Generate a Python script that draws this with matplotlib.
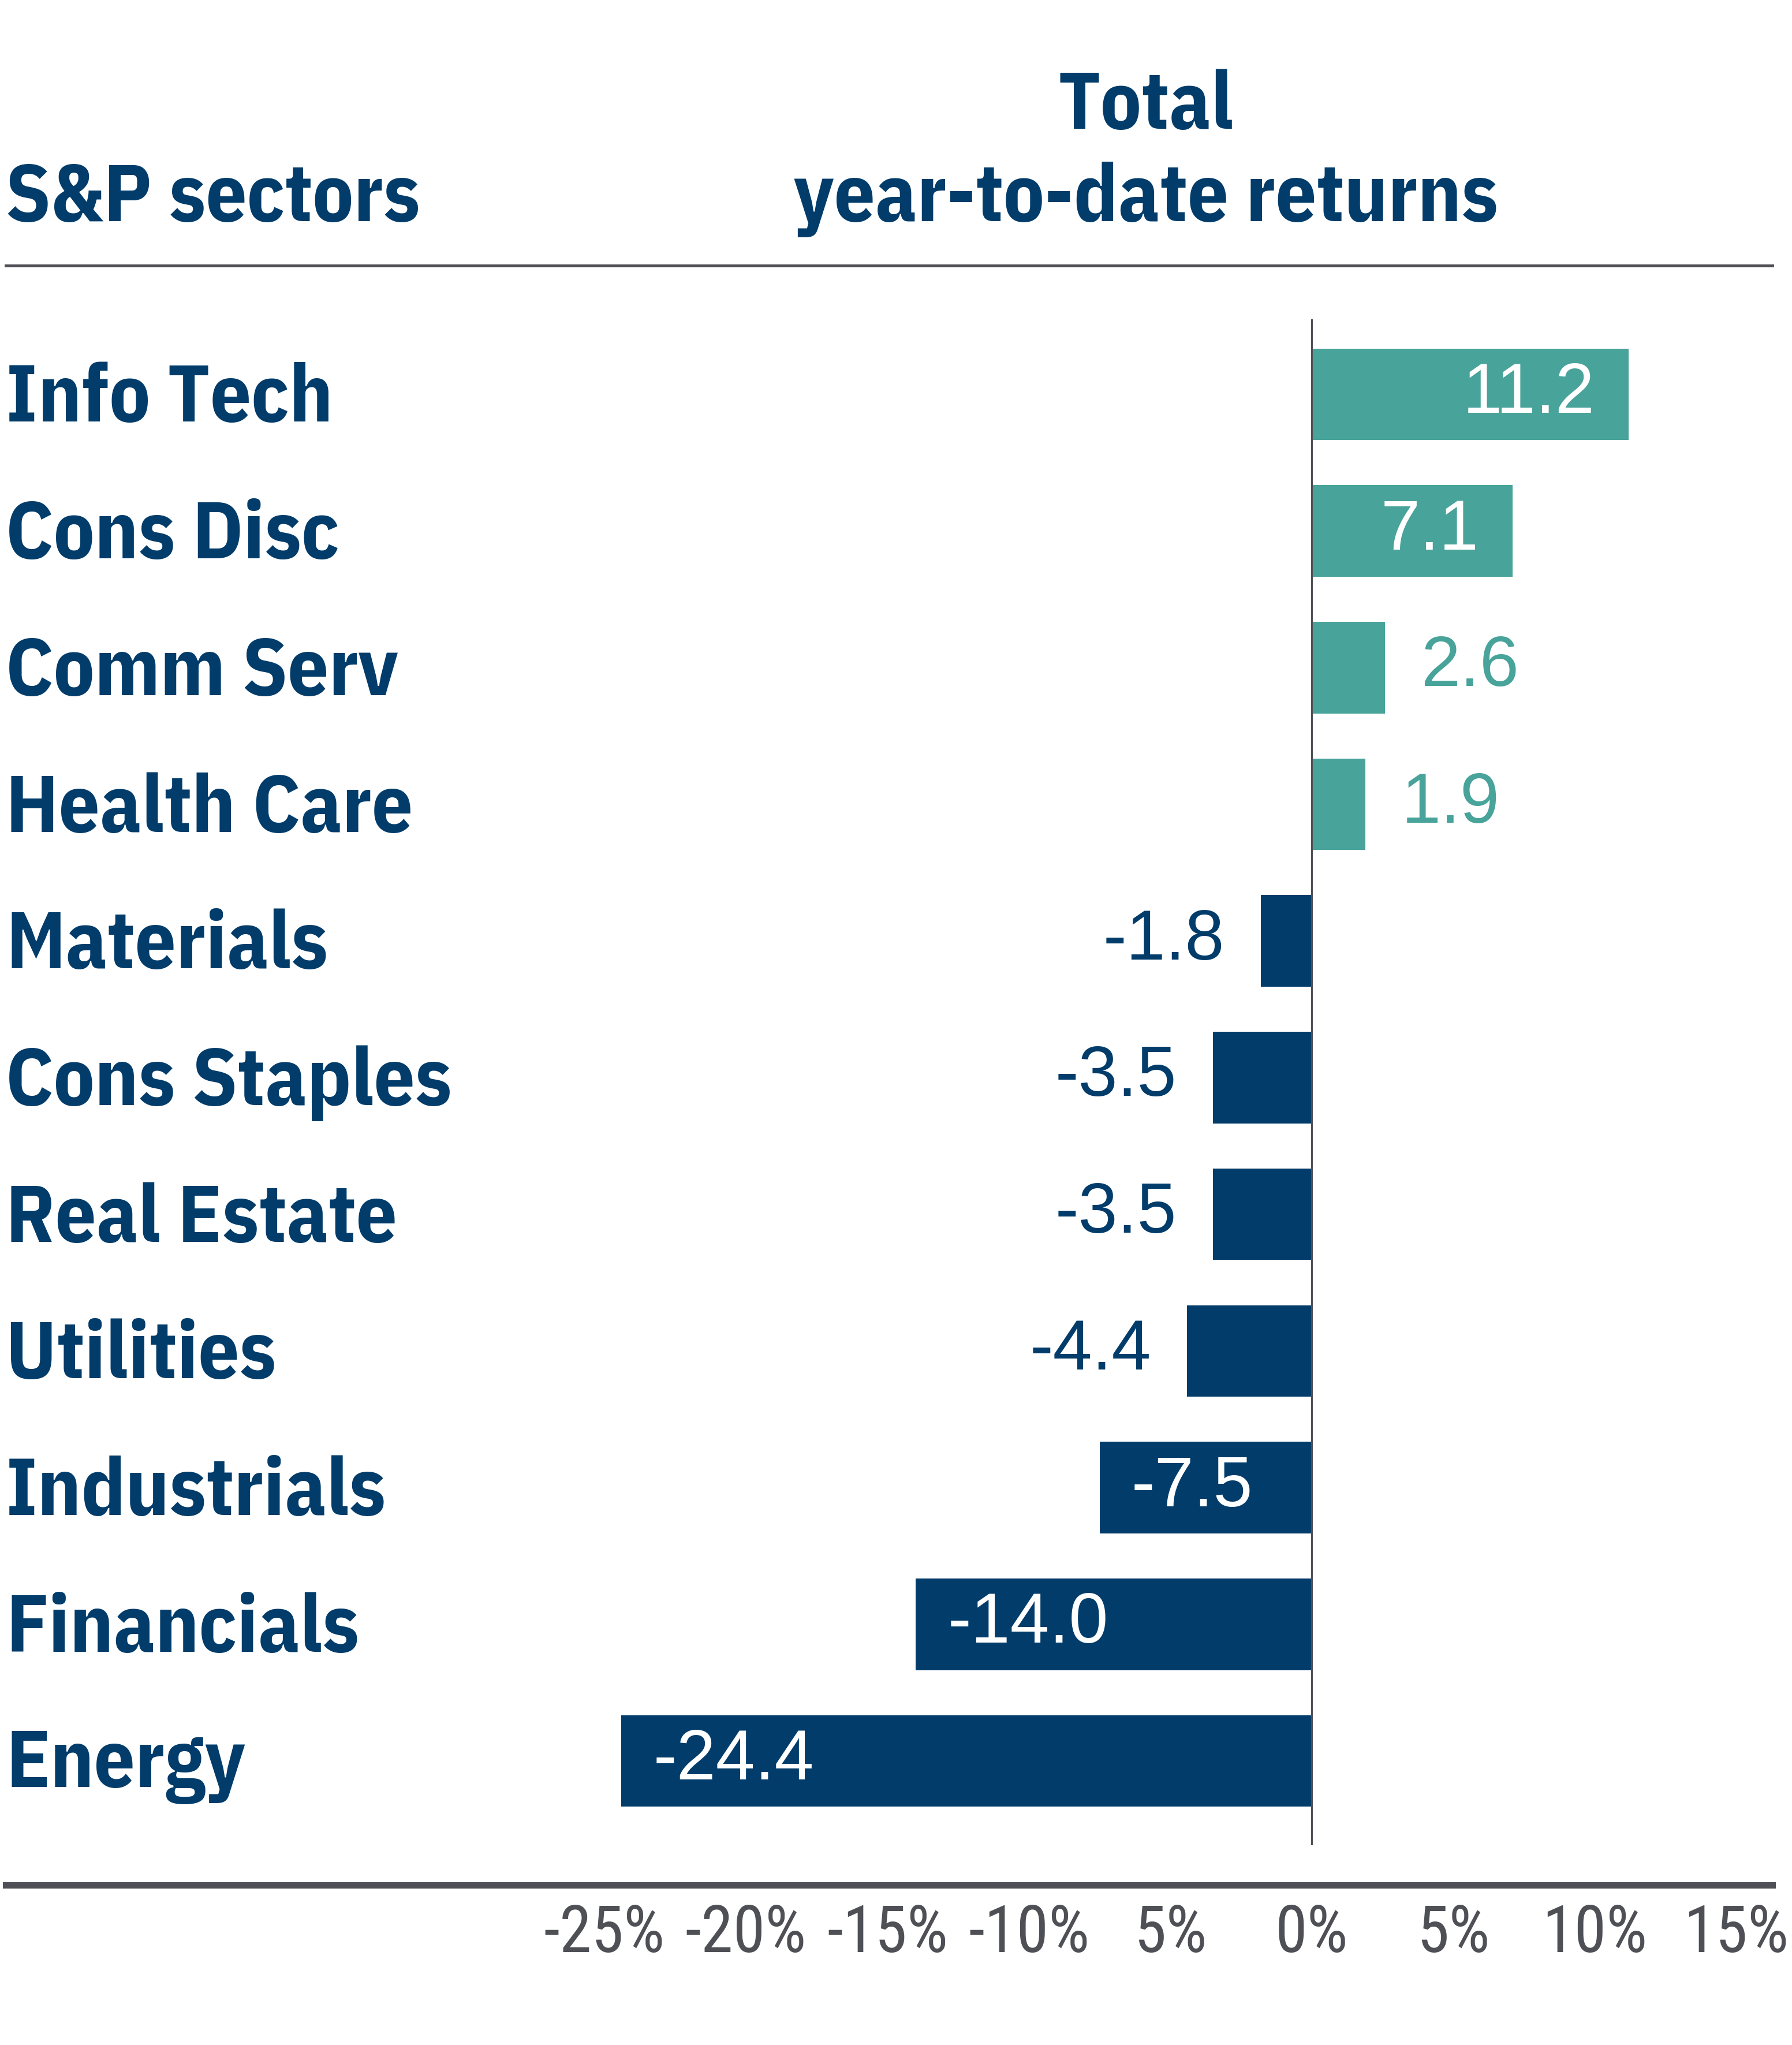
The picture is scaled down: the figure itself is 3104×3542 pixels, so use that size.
import matplotlib
matplotlib.use("Agg")
import matplotlib.pyplot as plt
from matplotlib.lines import Line2D

# data, top to bottom
sectors = ["Info Tech", "Cons Disc", "Comm Serv", "Health Care", "Materials",
           "Cons Staples", "Real Estate", "Utilities", "Industrials",
           "Financials", "Energy"]
returns = [11.2, 7.1, 2.6, 1.9, -1.8, -3.5, -3.5, -4.4, -7.5, -14.0, -24.4]
tick_values = [-25, -20, -15, -10, -5, 0, 5, 10, 15]
tick_labels = ["-25%", "-20%", "-15%", "-10%", "5%", "0%", "5%", "10%", "15%"]

NAVY = "#023c6a"
TEAL = "#48a39a"
GRAY = "#4f5056"
BOLD_COND = ["IBM Plex Sans Condensed", "Roboto Condensed", "DejaVu Sans"]
COND = ["Roboto Condensed", "DejaVu Sans"]
REGULAR = ["Liberation Sans", "DejaVu Sans"]

W, H = 3104, 3542
fig = plt.figure(figsize=(W / 100, H / 100), dpi=100)

# axes box in pixel units of the reference
ax_left, ax_right, ax_top, ax_bottom = 10, 3070, 553, 3196
ax = fig.add_axes([ax_left / W, 1 - ax_bottom / H,
                   (ax_right - ax_left) / W, (ax_bottom - ax_top) / H])

zero_px = 2272
px_per_pct = 49
ax.set_xlim(-(zero_px - ax_left) / px_per_pct, (ax_right - zero_px) / px_per_pct)
ax.set_ylim(10 + 0.617, -0.549)

ypos = list(range(len(sectors)))
colors = [TEAL if v > 0 else NAVY for v in returns]
ax.barh(ypos, returns, height=0.67, color=colors, zorder=2)
ax.axvline(0, color=GRAY, lw=2.2, zorder=3)

for y, v, c, name in zip(ypos, returns, colors, sectors):
    inside = abs(v) >= 7
    if v > 0:
        ha = "right" if inside else "left"
        dx = -42 if inside else 45
    else:
        ha = "left" if inside else "right"
        dx = 40 if inside else -45
    ax.annotate(f"{v:.1f}", xy=(v, y), xytext=(dx, 0), textcoords="offset points",
                ha=ha, va="center", fontsize=88, family=REGULAR,
                color="white" if inside else c, zorder=4)
    ax.annotate(name, xy=(0, y), xycoords=ax.get_yaxis_transform(),
                xytext=(0, -7), textcoords="offset points", ha="left",
                va="center", fontsize=101, fontweight="bold", family=BOLD_COND,
                color=NAVY)

ax.set_xticks(tick_values)
ax.set_xticklabels(tick_labels, family=COND, fontsize=81, color=GRAY)
ax.tick_params(axis="x", length=0, pad=72)
ax.set_yticks([])
for s in ax.spines.values():
    s.set_visible(False)

# header
fig.text(10 / W, 1 - 383 / H, "S&P sectors", ha="left", va="baseline",
         fontsize=101, fontweight="bold", family=BOLD_COND, color=NAVY)
fig.text(1985 / W, 1 - 223 / H, "Total", ha="center", va="baseline",
         fontsize=101, fontweight="bold", family=BOLD_COND, color=NAVY)
fig.text(1985 / W, 1 - 383 / H, "year-to-date returns", ha="center", va="baseline",
         fontsize=101, fontweight="bold", family=BOLD_COND, color=NAVY)

fig.add_artist(Line2D([10 / W, 3070 / W], [1 - 460 / H] * 2, color=GRAY, lw=3.6))
fig.add_artist(Line2D([10 / W, 3070 / W], [1 - 3265 / H] * 2, color=GRAY, lw=8))

fig.savefig("out.png", dpi=100, facecolor="white")
